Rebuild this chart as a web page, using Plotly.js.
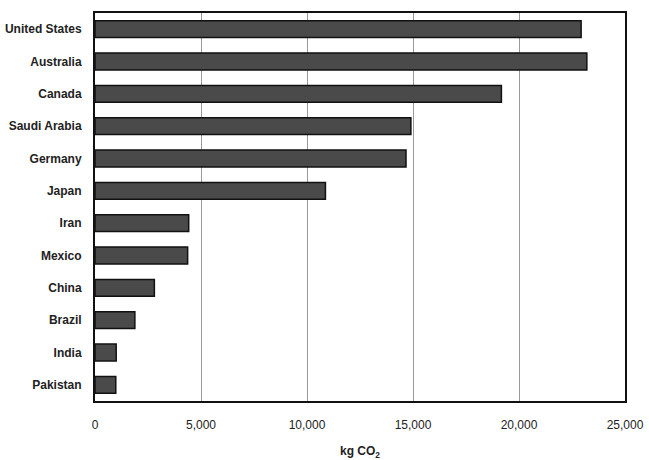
<!DOCTYPE html>
<html>
<head>
<meta charset="utf-8">
<script src="https://cdn.plot.ly/plotly-3.0.1.min.js"></script>
<style>html,body{margin:0;padding:0;background:#fff;}#chart{width:649px;height:460px;}</style>
</head>
<body>
<div id="chart"></div>
<script>
var countries = ["United States","Australia","Canada","Saudi Arabia","Germany","Japan","Iran","Mexico","China","Brazil","India","Pakistan"];
var values = [22930, 23200, 19170, 14900, 14670, 10870, 4420, 4370, 2800, 1880, 1000, 980];
var xTicks = [0, 5000, 10000, 15000, 20000, 25000];
var xTickLabels = ["0","5,000","10,000","15,000","20,000","25,000"];

var trace = {
  type: "bar",
  orientation: "h",
  y: countries,
  x: values,
  marker: {color: "#4a4a4a", line: {color: "#111", width: 1.5}},
  hoverinfo: "x+y"
};

var layout = {
  width: 649, height: 460,
  margin: {l: 95, r: 24, t: 13, b: 59},
  paper_bgcolor: "#fff", plot_bgcolor: "#fff",
  showlegend: false,
  bargap: 0.48,
  font: {family: "Liberation Sans, Arial, sans-serif", color: "#222", size: 12},
  xaxis: {
    range: [0, 25000],
    tickvals: xTicks, ticktext: xTickLabels,
    showgrid: true, gridcolor: "#999", gridwidth: 1,
    zeroline: false,
    showline: true, linecolor: "#111", linewidth: 2, mirror: true,
    ticks: "", ticklen: 0,
    ticklabelstandoff: 12,
    tickfont: {size: 12, color: "#222"},
    title: {text: "<b>kg CO<sub>2</sub></b>", font: {size: 12, color: "#222"}, standoff: 16}
  },
  yaxis: {
    categoryorder: "array", categoryarray: countries,
    autorange: "reversed",
    showgrid: false, zeroline: false,
    showline: true, linecolor: "#111", linewidth: 2, mirror: true,
    ticks: "",
    ticklabelstandoff: 9,
    tickfont: {size: 12, color: "#222", weight: "bold"}
  }
};

Plotly.newPlot("chart", [trace], layout, {displayModeBar: false, staticPlot: true});
</script>
</body>
</html>
